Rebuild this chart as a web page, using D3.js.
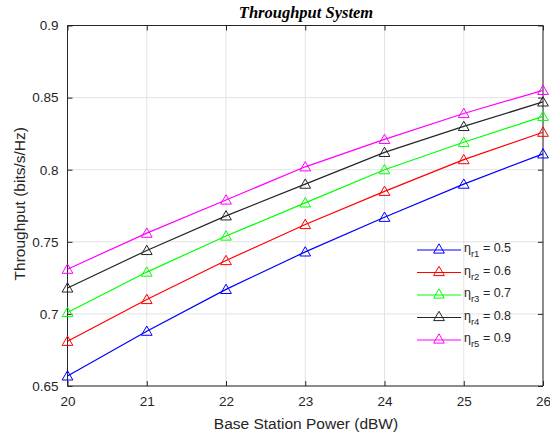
<!DOCTYPE html>
<html><head><meta charset="utf-8">
<script src="https://cdn.jsdelivr.net/npm/d3@7"></script>
<style>body{margin:0;background:#fff;} svg{display:block;font-family:"Liberation Sans",Arial,sans-serif;}</style>
</head><body><svg id="c" width="550" height="434"></svg>
<script>
const powers = [20, 21, 22, 23, 24, 25, 26];
const eta1 = [0.657, 0.688, 0.717, 0.743, 0.767, 0.790, 0.811];
const eta2 = [0.681, 0.710, 0.737, 0.762, 0.785, 0.807, 0.826];
const eta3 = [0.701, 0.729, 0.754, 0.777, 0.800, 0.819, 0.837];
const eta4 = [0.718, 0.744, 0.768, 0.790, 0.812, 0.830, 0.847];
const eta5 = [0.731, 0.756, 0.779, 0.802, 0.821, 0.839, 0.855];
const seriesNames = ["r1", "r2", "r3", "r4", "r5"];
const seriesValues = ["0.5", "0.6", "0.7", "0.8", "0.9"];
const seriesColors = ["#0000ff", "#ff0000", "#00ff00", "#262626", "#ff00ff"];
const yTicks = [0.65, 0.7, 0.75, 0.8, 0.85, 0.9];
const xTicks = [20, 21, 22, 23, 24, 25, 26];

const series = [eta1, eta2, eta3, eta4, eta5];
const svg = d3.select("#c");
const L = 67.5, R = 543, T = 25.5, B = 386;
const x = d3.scaleLinear().domain([20, 26]).range([L, R]);
const y = d3.scaleLinear().domain([0.65, 0.9]).range([B, T]);
const axisCol = "#262626";

// grid
svg.append("g").selectAll("line.gx").data(xTicks).join("line")
  .attr("x1", d => x(d)).attr("x2", d => x(d)).attr("y1", T).attr("y2", B)
  .attr("stroke", "#e3e3e3").attr("stroke-width", 1);
svg.append("g").selectAll("line.gy").data(yTicks).join("line")
  .attr("y1", d => y(d)).attr("y2", d => y(d)).attr("x1", L).attr("x2", R)
  .attr("stroke", "#e3e3e3").attr("stroke-width", 1);

// axes
const xAxis = d3.axisBottom(x).tickValues(xTicks).tickSize(-5).tickPadding(10).tickFormat(d3.format("d"));
const yAxis = d3.axisLeft(y).tickValues(yTicks).tickSize(-5).tickPadding(9).tickFormat(d => String(d));
const xTop = d3.axisTop(x).tickValues(xTicks).tickSize(-5).tickFormat("");
const yRight = d3.axisRight(y).tickValues(yTicks).tickSize(-5).tickFormat("");

function style(g) {
  g.select(".domain").attr("stroke", axisCol).attr("stroke-width", 1);
  g.selectAll(".tick line").attr("stroke", axisCol);
  g.selectAll(".tick text").attr("fill", axisCol).attr("font-size", 13.5)
    .attr("font-family", "Liberation Sans, Arial, sans-serif");
}
svg.append("g").attr("transform", `translate(0,${B})`).call(xAxis).call(style).call(g => g.select(".domain").attr("d", `M${L},0H${R}`));
svg.append("g").attr("transform", `translate(${L},0)`).call(yAxis).call(style).call(g => g.select(".domain").attr("d", `M0,${B}V${T}`));
svg.append("g").attr("transform", `translate(0,${T})`).call(xTop).call(style).call(g => g.select(".domain").attr("d", `M${L},0H${R}`));
svg.append("g").attr("transform", `translate(${R},0)`).call(yRight).call(style).call(g => g.select(".domain").attr("d", `M0,${B}V${T}`));

// lines & markers
const line = d3.line().x((d, i) => x(powers[i])).y(d => y(d));
const tri = d3.symbol().type(d3.symbolTriangle).size(50);
series.forEach((vals, k) => {
  const g = svg.append("g");
  g.append("path").datum(vals).attr("d", line).attr("fill", "none")
    .attr("stroke", seriesColors[k]).attr("stroke-width", 1.2);
  g.selectAll("path.m").data(vals).join("path").attr("class", "m")
    .attr("d", tri).attr("transform", (d, i) => `translate(${x(powers[i])},${y(d) + 1})`)
    .attr("fill", "none").attr("stroke", seriesColors[k]).attr("stroke-width", 1);
});

// legend
const lg = svg.append("g");
seriesNames.forEach((n, k) => {
  const ly = 250 + k * 22.5;
  lg.append("line").attr("x1", 417).attr("x2", 461).attr("y1", ly).attr("y2", ly)
    .attr("stroke", seriesColors[k]).attr("stroke-width", 1.2);
  lg.append("path").attr("d", tri).attr("transform", `translate(439,${ly})`)
    .attr("fill", "none").attr("stroke", seriesColors[k]);
  const t = lg.append("text").attr("x", 464).attr("y", ly + 2).attr("font-size", 12.5).attr("fill", axisCol);
  t.append("tspan").text("η");
  t.append("tspan").attr("dy", 5).attr("font-size", 9.5).text(n);
  t.append("tspan").attr("dy", -5).attr("font-size", 12.5).text(" = " + seriesValues[k]);
});

// labels
svg.append("text").attr("x", 306).attr("y", 18).attr("text-anchor", "middle")
  .attr("font-family", "Liberation Serif, Times New Roman, serif").attr("font-weight", "bold")
  .attr("font-style", "italic").attr("font-size", 16.5).attr("fill", "#000").text("Throughput System");
svg.append("text").attr("x", 306).attr("y", 429).attr("text-anchor", "middle")
  .attr("font-size", 15.5).attr("fill", axisCol).text("Base Station Power (dBW)");
svg.append("text").attr("transform", `translate(25,${(T + B) / 2 - 2}) rotate(-90)`).attr("text-anchor", "middle")
  .attr("font-size", 15.5).attr("fill", axisCol).text("Throughput (bits/s/Hz)");
</script></body></html>
